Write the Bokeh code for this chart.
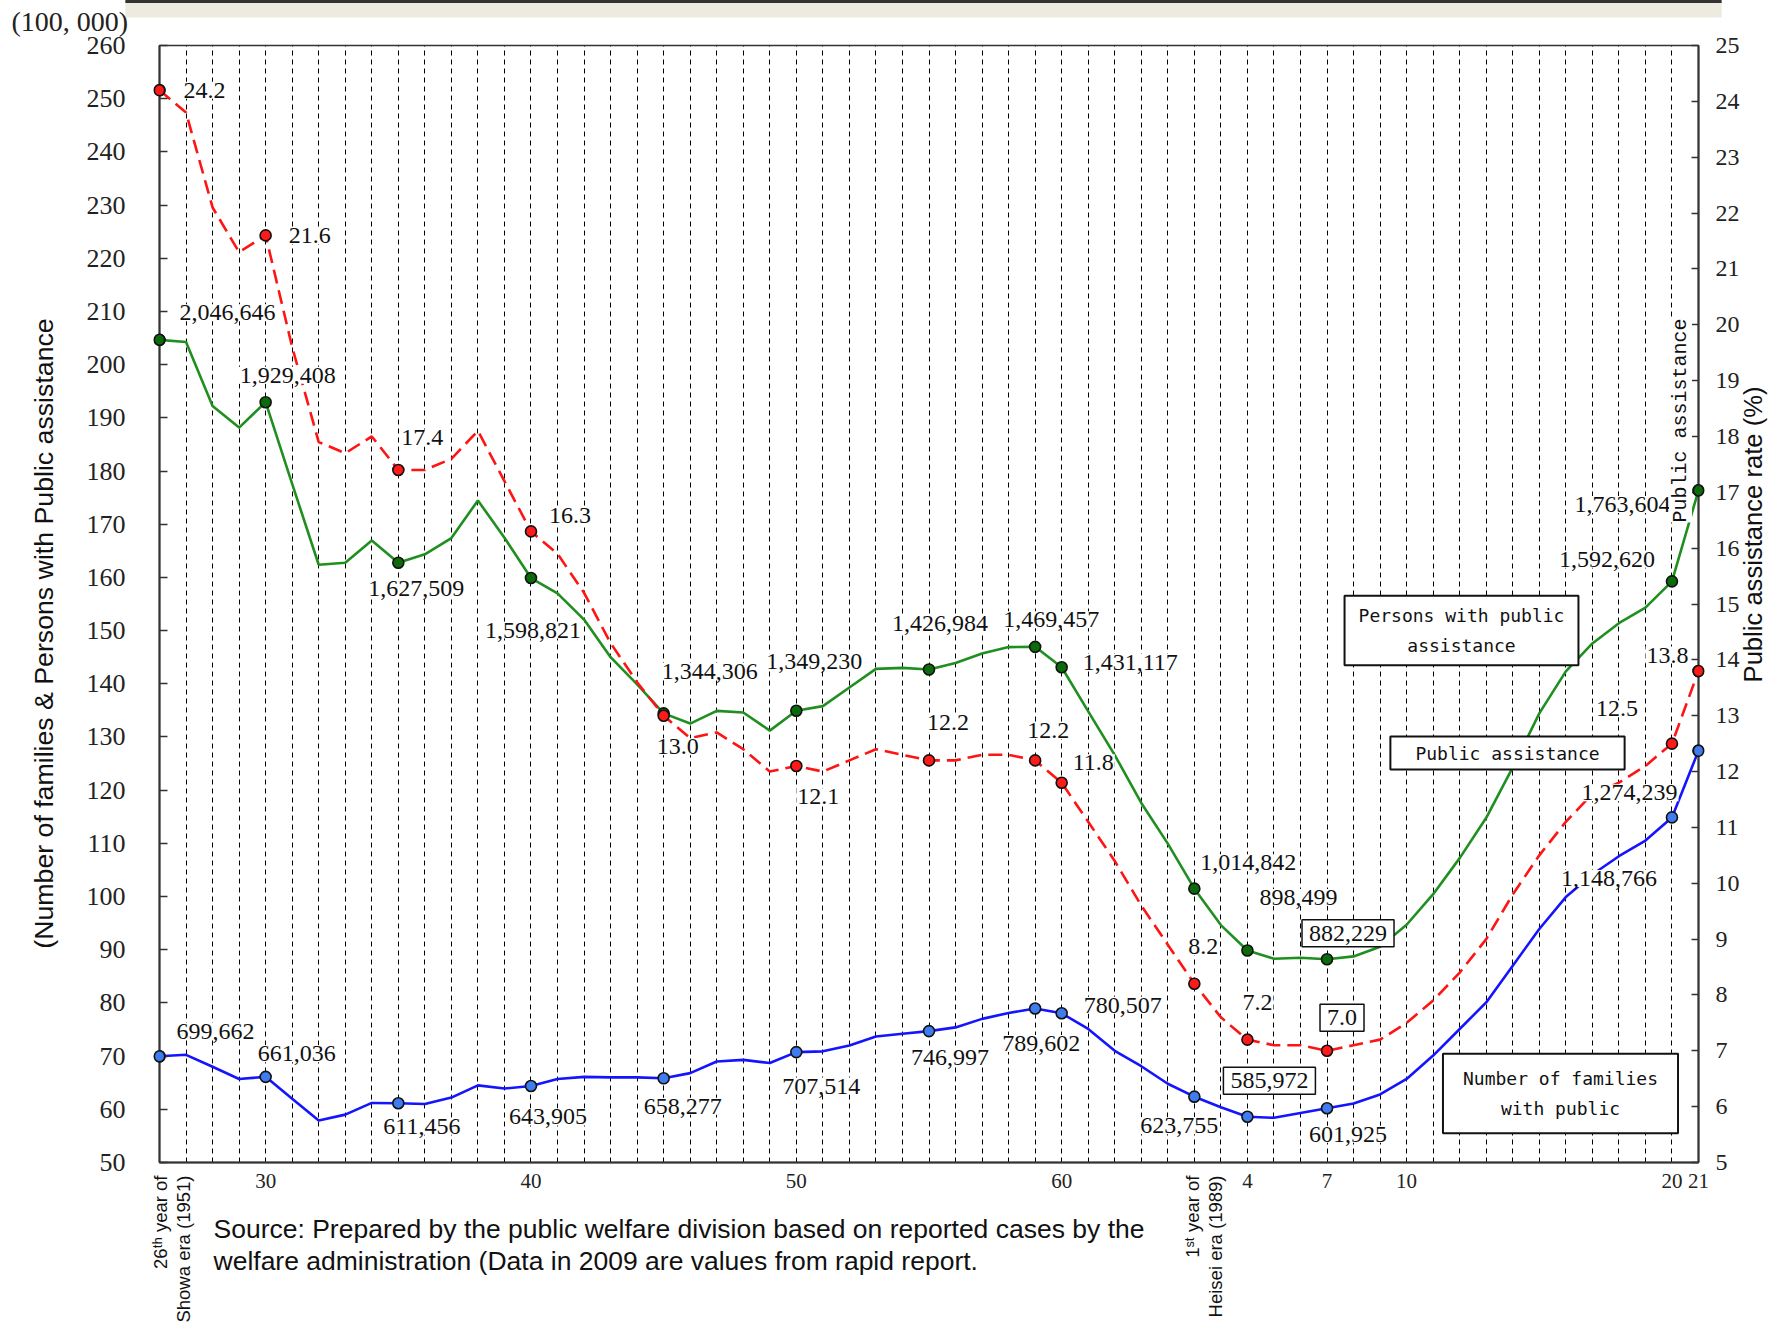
import math
from bokeh.plotting import figure
from bokeh.models import Range1d, LinearAxis, FixedTicker, ColumnDataSource, Label
from bokeh.core.properties import value
from bokeh.embed import file_html
from bokeh.resources import INLINE

# ---------------- data ----------------
years = list(range(1951, 2010))
persons = [2046646, 2042550, 1922060, 1881687, 1929408, 1775971, 1623744, 1627571, 1669180, 1627509,
           1643445, 1674001, 1744639, 1674661, 1598821, 1570054, 1520733, 1449970, 1398725, 1344306,
           1325218, 1349000, 1346000, 1312000, 1349230, 1358000, 1393000, 1428000, 1430000, 1426984,
           1439000, 1457000, 1469000, 1469457, 1431117, 1348000, 1266000, 1176000, 1099520, 1014842,
           946374, 898499, 883112, 884912, 882229, 887450, 905589, 946994, 1004472, 1072241,
           1148088, 1242723, 1344327, 1423388, 1475838, 1513892, 1543321, 1592620, 1763604]
rates = [24.2, 23.8, 22.1, 21.3, 21.6, 19.6, 17.9, 17.7, 18.0, 17.4,
         17.4, 17.6, 18.1, 17.2, 16.3, 15.9, 15.2, 14.3, 13.6, 13.0,
         12.6, 12.7, 12.4, 12.0, 12.1, 12.0, 12.2, 12.4, 12.3, 12.2,
         12.2, 12.3, 12.3, 12.2, 11.8, 11.1, 10.4, 9.6, 8.9, 8.2,
         7.6, 7.2, 7.1, 7.1, 7.0, 7.1, 7.2, 7.5, 7.9, 8.4,
         9.0, 9.8, 10.5, 11.1, 11.6, 11.8, 12.1, 12.5, 13.8]
families = [699662, 702450, 680000, 657000, 661036, 620000, 579037, 590000, 612000, 611456,
            610000, 622000, 645000, 639000, 643905, 657000, 661000, 660000, 660000, 658277,
            668000, 690000, 693000, 687000, 707514, 709000, 720000, 737000, 742000, 746997,
            754000, 770000, 781000, 789602, 780507, 751000, 710000, 681000, 648000, 623755,
            604000, 585972, 584000, 593000, 601925, 611000, 628000, 657000, 701000, 751000,
            801000, 870000, 939000, 999000, 1041508, 1075820, 1105275, 1148766, 1274239]
label_years = [1951, 1955, 1960, 1965, 1970, 1975, 1980, 1984, 1985, 1990, 1992, 1995, 2008, 2009]
x_tick_years = [1955, 1965, 1975, 1985, 1992, 1995, 1998, 2008, 2009]
x_tick_labels = ["30", "40", "50", "60", "4", "7", "10", "20", "21"]
left_ticks = list(range(50, 261, 10))
right_ticks = list(range(5, 26))

# ---------------- styles / label offsets (px, +y = down) ----------------
persons_off = {1951: (19, -27), 1955: (-27, -27), 1960: (-31, 26), 1965: (-47, 52), 1970: (-3, -42),
               1975: (-31, -49), 1980: (-38, -46), 1984: (-33, -27), 1985: (20, -5), 1990: (5, -26),
               1992: (11, -53), 1995: (21, -26), 2008: (-114, -22), 2009: (-125, 14)}
rates_off = {1951: (23, 0), 1955: (22, 0), 1960: (2, -32), 1965: (17, -16), 1970: (-8, 31),
             1975: (0, 31), 1980: (-3, -38), 1984: (-9, -30), 1985: (10, -20), 1990: (-7, -37),
             1992: (-6, -37), 1995: (15, -33), 2008: (-77, -35), 2009: (-53, -16)}
families_off = {1951: (16, -25), 1955: (-9, -23), 1960: (-16, 23), 1965: (-23, 31), 1970: (-21, 28),
                1975: (-15, 34), 1980: (-19, 26), 1984: (-34, 35), 1985: (21, -8), 1990: (-55, 29),
                1992: (22, -36), 1995: (-19, 26), 2008: (-112, 61), 2009: (-118, 42)}
persons_boxed = [1995]
rates_boxed = [1995]
families_boxed = [1992]

GREEN, GREEN_FILL = "#1f8f1f", "#0b6b0b"
RED, RED_FILL = "#ff1414", "#ff1a1a"
BLUE, BLUE_FILL = "#1414ff", "#3f7cf0"

# frame geometry on the picture (px)
FL, FT, FW, FH = 159, 45, 1539, 1117
FB = FT + FH
X0, X1, Y0, Y1 = 1951, 2009, 50, 260


def X(px):
    return X0 + (px - FL) * (X1 - X0) / FW


def Y(py):
    return Y0 + (FB - py) * (Y1 - Y0) / FH


p = figure(frame_width=FW, frame_height=FH,
           x_range=Range1d(X0, X1), y_range=Range1d(Y0, Y1),
           output_backend="svg", toolbar_location=None, title=None,
           min_border_left=FL, min_border_right=75, min_border_top=FT, min_border_bottom=152,
           background_fill_color="white", border_fill_color="white")
p.extra_y_ranges = {"rate": Range1d(5, 25)}
p.outline_line_color = "#333333"
p.outline_line_width = 1.5

# left axis
ax = p.yaxis[0]
ax.ticker = FixedTicker(ticks=left_ticks)
ax.major_tick_in = 8
ax.major_tick_out = 0
ax.minor_tick_in = 0
ax.minor_tick_out = 0
ax.major_label_standoff = 34
ax.major_label_text_font = "Liberation Serif"
ax.major_label_text_font_size = "26px"
ax.major_label_text_color = "#222222"
ax.axis_line_color = "#333333"
ax.axis_line_width = 2
ax.major_tick_line_color = "#333333"
ax.major_tick_line_width = 1.5

# bottom axis
bx = p.xaxis[0]
bx.ticker = FixedTicker(ticks=x_tick_years)
bx.major_label_overrides = {y: s for y, s in zip(x_tick_years, x_tick_labels)}
bx.major_tick_in = 0
bx.major_tick_out = 0
bx.minor_tick_in = 0
bx.minor_tick_out = 0
bx.major_label_standoff = 11
bx.major_label_text_font = "Liberation Serif"
bx.major_label_text_font_size = "21px"
bx.major_label_text_color = "#222222"
bx.axis_line_color = "#333333"
bx.axis_line_width = 2

# right axis
rax = LinearAxis(y_range_name="rate", ticker=FixedTicker(ticks=right_ticks))
rax.major_tick_in = 7
rax.major_tick_out = 0
rax.minor_tick_in = 0
rax.minor_tick_out = 0
rax.major_label_standoff = 17
rax.major_label_text_font = "Liberation Serif"
rax.major_label_text_font_size = "24px"
rax.major_label_text_color = "#222222"
rax.axis_line_color = "#333333"
rax.axis_line_width = 2
rax.major_tick_line_color = "#333333"
rax.major_tick_line_width = 1.5
p.add_layout(rax, "right")

# grid: dashed vertical line for every year
p.xgrid.ticker = FixedTicker(ticks=years)
p.xgrid.grid_line_color = "black"
p.xgrid.grid_line_dash = "5 4"
p.xgrid.grid_line_width = 1
p.ygrid.visible = False

# lines
src = ColumnDataSource(dict(year=years,
                            persons=[v / 1e4 for v in persons],
                            rate=rates,
                            families=[v / 1e4 for v in families]))
p.line("year", "persons", source=src, line_color=GREEN, line_width=2.6)
p.line("year", "rate", source=src, y_range_name="rate", line_color=RED, line_width=2.6, line_dash="14 7")
p.line("year", "families", source=src, line_color=BLUE, line_width=2.6)


def series_points(vals, scale, fmt, offs, boxed):
    out = {True: dict(x=[], y=[], t=[], dx=[], dy=[]), False: dict(x=[], y=[], t=[], dx=[], dy=[])}
    mk = dict(x=[], y=[])
    for yr in label_years:
        v = vals[years.index(yr)]
        mk["x"].append(yr)
        mk["y"].append(v / scale)
        d = out[yr in boxed]
        d["x"].append(yr)
        d["y"].append(v / scale)
        d["t"].append(fmt(v))
        d["dx"].append(offs[yr][0])
        d["dy"].append(offs[yr][1])
    return mk, out[False], out[True]


series = [
    (persons, 1e4, lambda v: f"{v:,}", persons_off, persons_boxed, GREEN_FILL, "default"),
    (rates, 1.0, lambda v: f"{v:.1f}", rates_off, rates_boxed, RED_FILL, "rate"),
    (families, 1e4, lambda v: f"{v:,}", families_off, families_boxed, BLUE_FILL, "default"),
]

edge_markers = []
for vals, scale, fmt, offs, boxed, fill, rng in series:
    mk, plain, bxd = series_points(vals, scale, fmt, offs, boxed)
    p.scatter(mk["x"], mk["y"], y_range_name=rng, marker="circle", size=11,
              fill_color=fill, line_color="#111111", line_width=1.6)
    p.text("x", "y", text="t", x_offset="dx", y_offset="dy", source=ColumnDataSource(plain),
           y_range_name=rng, text_font=value("Liberation Serif"), text_font_size="24px",
           text_color="#111111", text_align="left", text_baseline="middle",
           background_fill_color="white", padding=1)
    # padding tuple order: (left, right, top, bottom)
    p.text("x", "y", text="t", x_offset="dx", y_offset="dy", source=ColumnDataSource(bxd),
           y_range_name=rng, text_font=value("Liberation Serif"), text_font_size="24px",
           text_color="#111111", text_align="center", text_baseline="middle",
           background_fill_color="white", border_line_color="#111111", border_line_width=1.5,
           padding=(7, 7, 6, 6))
    # markers sitting on the two vertical axes are drawn again unclipped (full circles)
    for xe, ye in zip(mk["x"], mk["y"]):
        if xe in (X0, X1):
            edge_markers.append(Label(x=xe, y=ye, y_range_name=rng, text=" ", text_font_size="1px",
                                      text_align="center", text_baseline="middle",
                                      background_fill_color=fill, border_line_color="#111111",
                                      border_line_width=1.6, padding=(5, 5, 5, 5), border_radius=6))

# ---------------- annotations outside the frame (side panel => not clipped) ----------------
outside = []
outside.append(Label(x=X(923), y=Y(8.5), text=" ", text_font_size="1px", text_align="center",
                     text_baseline="middle", background_fill_color="#edeae0",
                     padding=(798, 798, 8, 8)))
outside.append(Label(x=X(923), y=Y(1), text=" ", text_font_size="1px", text_align="center",
                     text_baseline="middle", background_fill_color="#333333",
                     padding=(798, 798, 1, 1)))
outside.append(Label(x=X(11), y=Y(21), text="(100, 000)", text_font="Liberation Serif",
                     text_font_size="28px", text_align="left", text_baseline="middle",
                     text_color="#222222"))
outside.append(Label(x=X(43), y=Y(633), text="(Number of families & Persons with Public assistance",
                     angle=math.pi / 2, text_font="Liberation Sans", text_font_size="26.7px",
                     text_align="center", text_baseline="middle", text_color="#111111"))
outside.append(Label(x=X(1752), y=Y(534), text="Public assistance rate (%)",
                     angle=math.pi / 2, text_font="Liberation Sans", text_font_size="25.6px",
                     text_align="center", text_baseline="middle", text_color="#111111"))
for px, txt in [(160, "26ᵗʰ year of"), (183, "Showa era (1951)"),
                (1192, "1ˢᵗ year of"), (1215, "Heisei era (1989)")]:
    outside.append(Label(x=X(px), y=Y(1175), text=txt, angle=math.pi / 2, text_font="Liberation Sans",
                         text_font_size="18.5px", text_align="right", text_baseline="middle",
                         text_color="#111111"))
outside.append(Label(x=X(213), y=Y(1228),
                     text="Source: Prepared by the public welfare division based on reported cases by the",
                     text_font="Liberation Sans", text_font_size="26.5px", text_align="left",
                     text_baseline="middle", text_color="#111111"))
outside.append(Label(x=X(213), y=Y(1260),
                     text="welfare administration (Data in 2009 are values from rapid report.",
                     text_font="Liberation Sans", text_font_size="26.5px", text_align="left",
                     text_baseline="middle", text_color="#111111"))
for lab in outside + edge_markers:
    p.add_layout(lab, "below")

# series name boxes (inside the frame)
box_style = dict(text_font="DejaVu Sans Mono", text_font_size="18px", text_align="center",
                 text_baseline="middle", text_line_height=1.45, text_color="#111111",
                 background_fill_color="white", border_line_color="#111111", border_line_width=2)
p.add_layout(Label(x=X(1461), y=Y(630), text="Persons with public\nassistance",
                   padding=(14, 14, 9, 9), **box_style))
p.add_layout(Label(x=X(1507), y=Y(752.5), text="Public assistance",
                   padding=(25, 25, 6, 6), **box_style))
p.add_layout(Label(x=X(1560), y=Y(1093), text="Number of families\nwith public",
                   padding=(20, 20, 14, 14), **box_style))
# rotated series name near the right axis
p.add_layout(Label(x=X(1680), y=Y(420), text="Public assistance", angle=math.pi / 2,
                   text_font="Liberation Mono", text_font_size="20px", text_align="center",
                   text_baseline="middle", text_color="#111111", background_fill_color="white"))

open("out.html", "w").write(file_html(p, INLINE))
